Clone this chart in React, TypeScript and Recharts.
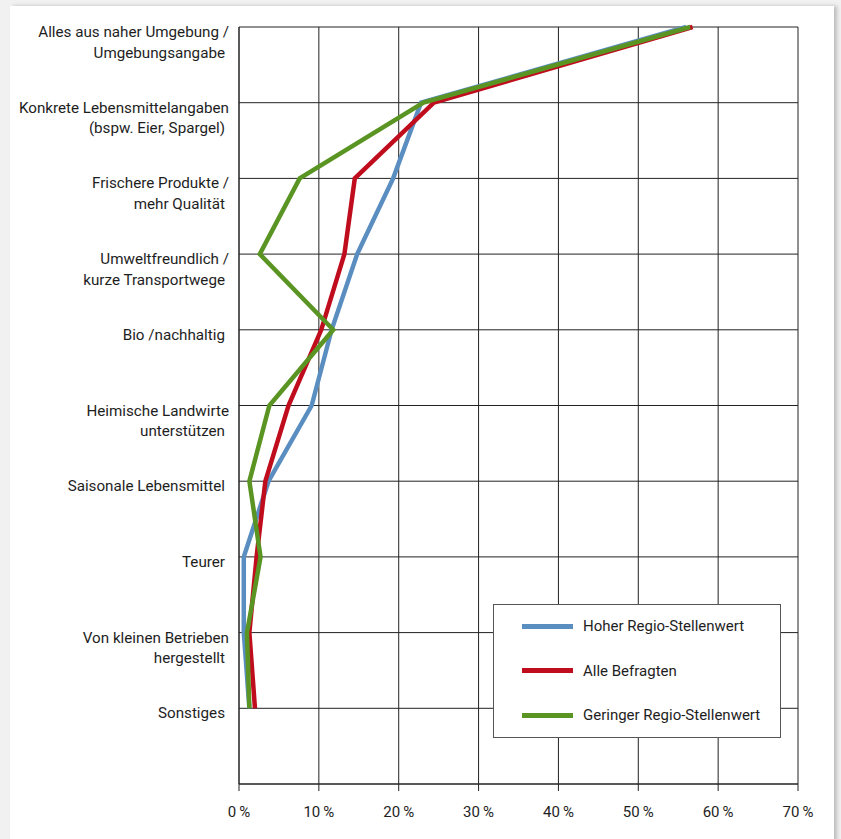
import React from 'react';
import { LineChart, Line, XAxis, YAxis, CartesianGrid, Legend } from 'recharts';

// Kategorien von oben nach unten (Zeilenumbrüche wie im Diagramm)
const categories = [
  'Alles aus naher Umgebung /\nUmgebungsangabe',
  'Konkrete Lebensmittelangaben\n(bspw. Eier, Spargel)',
  'Frischere Produkte /\nmehr Qualität',
  'Umweltfreundlich /\nkurze Transportwege',
  'Bio /nachhaltig',
  'Heimische Landwirte\nunterstützen',
  'Saisonale Lebensmittel',
  'Teurer',
  'Von kleinen Betrieben\nhergestellt',
  'Sonstiges',
];

const seriesNames = ['Hoher Regio-Stellenwert', 'Alle Befragten', 'Geringer Regio-Stellenwert'];

// Anteile in %
const hoherStellenwert = [56.0, 22.8, 19.3, 14.8, 11.6, 9.1, 3.7, 0.6, 0.6, 1.3];
const alleBefragten = [56.8, 24.4, 14.5, 13.2, 10.3, 6.2, 3.3, 2.2, 1.3, 2.0];
const geringerStellenwert = [56.5, 23.1, 7.6, 2.6, 11.8, 3.8, 1.3, 2.7, 1.0, 1.3];

const xTicks = [0, 10, 20, 30, 40, 50, 60, 70];
const yTicks = [0, 1, 2, 3, 4, 5, 6, 7, 8, 9, 10];

const data = categories.map((name, i) => ({
  idx: i,
  name,
  hoch: hoherStellenwert[i],
  alle: alleBefragten[i],
  gering: geringerStellenwert[i],
}));

const FONT = 'Roboto, "Open Sans", sans-serif';
const GRID = '#222';

const CategoryTick = (props: any) => {
  const { x, y, payload } = props;
  const label = categories[payload.value];
  if (!label) return null;
  const lines = label.split('\n');
  return (
    <text fontSize={15.2} fontFamily={FONT} fill="#1e1e1e" textAnchor="end">
      {lines.map((line, i) => (
        <tspan key={i} x={lines.length > 1 && i === 0 ? x : x - 4} y={y + 10 + i * 20.5}>
          {line}
        </tspan>
      ))}
    </text>
  );
};

const LegendBox = (props: any) => {
  const items = [...(props.payload || [])].sort(
    (a: any, b: any) => seriesNames.indexOf(a.value) - seriesNames.indexOf(b.value)
  );
  return (
    <div
      style={{
        width: 286,
        height: 132,
        border: '1px solid #555',
        background: '#fff',
        position: 'relative',
        fontFamily: FONT,
        fontSize: 15,
        color: '#1e1e1e',
      }}
    >
      {items.map((entry: any, i: number) => (
        <div
          key={entry.value}
          style={{ position: 'absolute', left: 28, top: 21 + i * 44.5, display: 'flex', alignItems: 'center', height: 0 }}
        >
          <div style={{ width: 51, height: 5, background: entry.color }} />
          <span style={{ marginLeft: 10, whiteSpace: 'nowrap' }}>{entry.value}</span>
        </div>
      ))}
    </div>
  );
};

export default function App() {
  return (
    <div style={{ position: 'fixed', left: 0, top: 0, width: 841, height: 839, background: '#f1f1f1', overflow: 'hidden' }}>
      <div
        style={{
          position: 'absolute',
          left: 10,
          top: 6,
          width: 824,
          height: 840,
          background: '#fff',
          boxShadow: '3px 0 4px rgba(0,0,0,0.22)',
        }}
      />
      <div style={{ position: 'absolute', left: 0, top: 0 }}>
        <LineChart
          width={841}
          height={839}
          data={data}
          layout="vertical"
          margin={{ top: 27, right: 43, bottom: 25, left: 0 }}
        >
          <CartesianGrid stroke={GRID} strokeWidth={1} />
          <XAxis
            type="number"
            domain={[0, 70]}
            ticks={xTicks}
            interval={0}
            height={30}
            tickSize={7}
            tickMargin={15}
            axisLine={{ stroke: GRID }}
            tickLine={{ stroke: GRID }}
            tickFormatter={(v: number) => `${v}\u2009%`}
            tick={{ fontSize: 15, fontFamily: FONT, fill: '#1e1e1e' }}
          />
          <YAxis
            type="number"
            dataKey="idx"
            domain={[0, 10]}
            ticks={yTicks}
            interval={0}
            width={239}
            tickSize={0}
            tickMargin={10}
            tickLine={false}
            axisLine={{ stroke: GRID }}
            tick={<CategoryTick />}
          />
          <Legend
            layout="vertical"
            verticalAlign="middle"
            align="center"
            content={<LegendBox />}
            wrapperStyle={{ left: 493, top: 604, width: 288 }}
          />
          <Line dataKey="hoch" name={seriesNames[0]} stroke="#5b8ec0" strokeWidth={4.5} dot={false} isAnimationActive={false} />
          <Line dataKey="alle" name={seriesNames[1]} stroke="#c00d1e" strokeWidth={4.5} dot={false} isAnimationActive={false} />
          <Line dataKey="gering" name={seriesNames[2]} stroke="#5a9423" strokeWidth={4.5} dot={false} isAnimationActive={false} />
        </LineChart>
      </div>
    </div>
  );
}
